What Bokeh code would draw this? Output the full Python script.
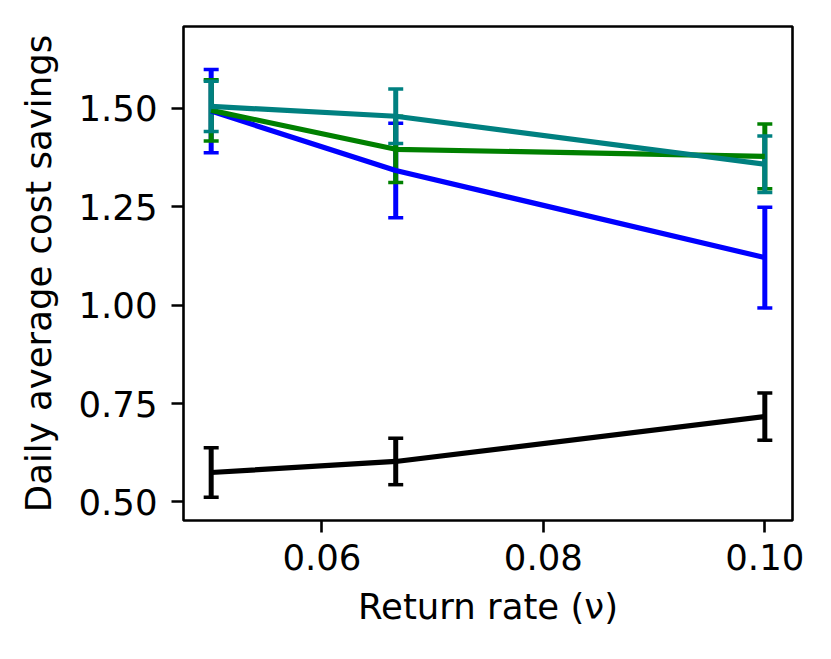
import numpy as np
from bokeh.plotting import figure
from bokeh.models import Range1d, FixedTicker, NumeralTickFormatter
from bokeh.embed import file_html
from bokeh.resources import INLINE

# ---- data ----
x_vals = [0.05, 1 / 15, 0.10]
blue_mean = [1.493, 1.342, 1.121]
blue_err = [0.106, 0.120, 0.128]
green_mean = [1.495, 1.396, 1.378]
green_err = [0.078, 0.084, 0.082]
teal_mean = [1.505, 1.480, 1.358]
teal_err = [0.064, 0.069, 0.072]
black_mean = [0.575, 0.603, 0.717]
black_err = [0.063, 0.059, 0.060]
x_ticks = [0.06, 0.08, 0.10]
y_ticks = [0.50, 0.75, 1.00, 1.25, 1.50]
x_label = "Return rate (ν)"
y_label = "Daily average cost savings"

series = [
    ("blue", blue_mean, blue_err),
    ("green", green_mean, green_err),
    ("teal", teal_mean, teal_err),
    ("black", black_mean, black_err),
]

FONT = "DejaVu Sans"
FS = "35.5px"

p = figure(width=815, height=643, output_backend="svg", toolbar_location=None,
           x_range=Range1d(0.0475, 0.1025), y_range=Range1d(0.453, 1.708),
           min_border_left=183, min_border_right=23, min_border_top=26,
           min_border_bottom=123)
p.background_fill_color = "white"
p.border_fill_color = "white"
p.outline_line_color = "black"
p.outline_line_width = 2.6
p.grid.visible = False

# error bars and caps first (matplotlib draws them beneath data lines)
for color, mean, err in series:
    m = np.array(mean)
    e = np.array(err)
    lo = m - e
    hi = m + e
    p.segment(x0=x_vals, y0=lo, x1=x_vals, y1=hi, line_color=color,
              line_width=5, line_cap="butt")
    p.scatter(x=x_vals, y=lo, marker="dash", size=15, line_color=color,
              line_width=3.5)
    p.scatter(x=x_vals, y=hi, marker="dash", size=15, line_color=color,
              line_width=3.5)

for color, mean, err in series:
    p.line(x=x_vals, y=mean, line_color=color, line_width=5.2, line_join="round")

for ax in (p.xaxis[0], p.yaxis[0]):
    ax.axis_line_color = None
    ax.major_tick_line_color = "black"
    ax.major_tick_line_width = 2.6
    ax.major_tick_out = 12
    ax.major_tick_in = 0
    ax.minor_tick_line_color = None
    ax.major_label_text_font = FONT
    ax.major_label_text_font_size = FS
    ax.major_label_text_color = "black"
    ax.axis_label_text_font = FONT
    ax.axis_label_text_font_size = FS
    ax.axis_label_text_font_style = "normal"
    ax.axis_label_text_color = "black"
    ax.formatter = NumeralTickFormatter(format="0.00")

p.xaxis.ticker = FixedTicker(ticks=x_ticks)
p.yaxis.ticker = FixedTicker(ticks=y_ticks)
p.xaxis.axis_label = x_label
p.yaxis.axis_label = y_label
p.xaxis.major_label_standoff = 11
p.yaxis.major_label_standoff = 14
p.xaxis.axis_label_standoff = 13
p.yaxis.axis_label_standoff = 16

open("out.html", "w").write(file_html(p, INLINE))
